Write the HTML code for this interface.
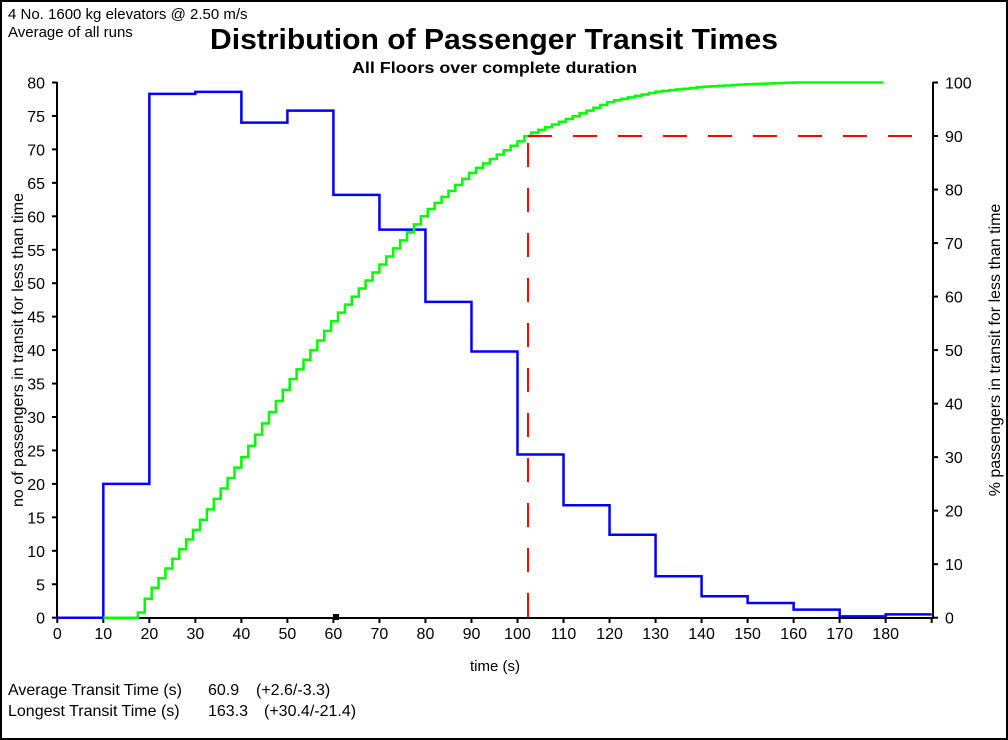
<!DOCTYPE html>
<html><head><style>
html,body{margin:0;padding:0;background:#fff;}
svg{display:block;font-family:"Liberation Sans",Arial,sans-serif;}
</style></head><body>
<svg id="s" width="1008" height="740" xmlns="http://www.w3.org/2000/svg">
<rect x="1" y="1" width="1006" height="738" fill="#fff" stroke="#000" stroke-width="2"/>
<text x="8" y="19" font-size="15">4 No. 1600 kg elevators @ 2.50 m/s</text>
<text x="8" y="37" font-size="15">Average of all runs</text>
<text x="210" y="49" font-size="29" font-weight="bold" textLength="568" lengthAdjust="spacingAndGlyphs">Distribution of Passenger Transit Times</text>
<text x="352" y="73" font-size="16" font-weight="bold" textLength="285" lengthAdjust="spacingAndGlyphs">All Floors over complete duration</text>
<text transform="translate(23,350) rotate(-90)" font-size="16" text-anchor="middle">no of passengers in transit for less than time</text>
<text transform="translate(1000,350) rotate(-90)" font-size="16" text-anchor="middle">% passengers in transit for less than time</text>
<text x="495" y="671" font-size="15" text-anchor="middle">time (s)</text>
<text x="8" y="695" font-size="16">Average Transit Time (s)</text>
<text x="208" y="695" font-size="16">60.9</text>
<text x="256" y="695" font-size="16">(+2.6/-3.3)</text>
<text x="8" y="716" font-size="16">Longest Transit Time (s)</text>
<text x="208" y="716" font-size="16">163.3</text>
<text x="264" y="716" font-size="16">(+30.4/-21.4)</text>
<g id="ax" stroke="#000" stroke-width="2" fill="none"></g>
<g id="lbl" font-size="16"></g>
<polyline id="blue" fill="none" stroke="#0000ff" stroke-width="2.5"/>
<polyline id="green" fill="none" stroke="#00ff00" stroke-width="2.5"/>
<g stroke="#ff0000" stroke-width="2" stroke-dasharray="24,21" fill="none">
<line x1="528" y1="617" x2="528" y2="136"/>
<line x1="528" y1="136" x2="933" y2="136"/>
</g>
<rect x="333" y="614" width="6" height="6" fill="#000"/>
</svg>
<script>
const X=t=>57.3+t*4.602, Y=v=>617.7-v*6.69, P=p=>617.7-p*5.352;
const NS="http://www.w3.org/2000/svg";
const ax=document.getElementById('ax'),lbl=document.getElementById('lbl');
function L(x1,y1,x2,y2){const l=document.createElementNS(NS,'line');l.setAttribute('x1',x1);l.setAttribute('y1',y1);l.setAttribute('x2',x2);l.setAttribute('y2',y2);ax.appendChild(l);}
function T(x,y,s,a){const t=document.createElementNS(NS,'text');t.setAttribute('x',x);t.setAttribute('y',y);t.setAttribute('text-anchor',a);t.textContent=s;lbl.appendChild(t);}
L(57,82,57,618);L(933,82,933,618);L(56,618,934,618);
for(let v=0;v<=80;v+=5){L(52,Y(v),57,Y(v));T(45,Y(v)+6,v,'end');}
for(let p=0;p<=100;p+=10){L(933,P(p),938,P(p));T(945,P(p)+6,p,'start');}
for(let t=0;t<=190;t+=10){L(X(t),618,X(t),623);if(t<=180)T(X(t),639,t,'middle');}
const b=[0,20,78.3,78.6,74,75.8,63.2,58,47.2,39.8,24.4,16.8,12.4,6.2,3.2,2.2,1.2,0.2,0.5];
let pts=[];b.forEach((v,i)=>{pts.push(X(i*10)+','+Y(v));pts.push(X(i*10+10)+','+Y(v));});
document.getElementById('blue').setAttribute('points',pts.join(' '));
const k=[[0,0],[17,0],[18.3,2.5],[20,5],[25,11],[30,17],[40,30],[50,44],[60,56],[70,66],[80,76],[90,83.5],[100,89],[102,90.3],[110,93],[120,96.5],[130,98.3],[140,99.2],[150,99.7],[160,100],[180,100]];
function g(t){for(let i=0;i<k.length-1;i++){if(t<=k[i+1][0]){const [a,va]=k[i],[c,vc]=k[i+1];return va+(vc-va)*(t-a)/(c-a);}}return 100;}
let gp=[];let prev=0;
for(let t=10;t<=180.01;t+=1.5){const v=g(t);gp.push(X(t)+','+P(prev));gp.push(X(t)+','+P(v));prev=v;}
document.getElementById('green').setAttribute('points',gp.join(' '));
</script>
</body></html>
